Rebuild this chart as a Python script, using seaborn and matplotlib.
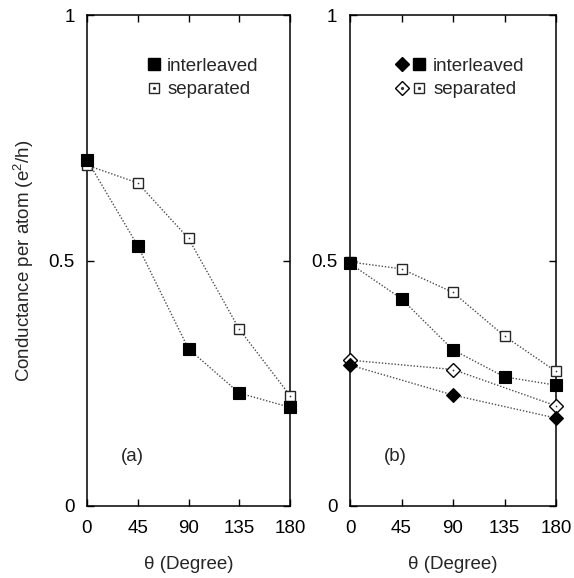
import numpy as np
import pandas as pd
import matplotlib
matplotlib.use("Agg")
import matplotlib.pyplot as plt
import seaborn as sns
from matplotlib.lines import Line2D
from matplotlib.legend_handler import HandlerTuple

# ---------------- data ----------------
theta = [0, 45, 90, 135, 180]
theta_d = [0, 90, 180]
a_interleaved = [0.705, 0.530, 0.320, 0.230, 0.201]
a_separated = [0.694, 0.658, 0.545, 0.360, 0.225]
b_interleaved_sq = [0.494, 0.422, 0.318, 0.263, 0.246]
b_separated_sq = [0.497, 0.483, 0.435, 0.346, 0.274]
b_interleaved_dm = [0.287, 0.226, 0.179]
b_separated_dm = [0.297, 0.278, 0.204]
xticks = [0, 45, 90, 135, 180]
yticks = [0, 0.5, 1]
yticklabels = ["0", "0.5", "1"]
panel_labels = ["(a)", "(b)"]
legend_labels = ["interleaved", "separated"]

sns.set_theme(style="ticks")
plt.rcParams["font.family"] = ["Liberation Sans", "DejaVu Sans"]
plt.rcParams["mathtext.fontset"] = "custom"
plt.rcParams["mathtext.rm"] = "Liberation Sans"
plt.rcParams["mathtext.it"] = "Liberation Sans:italic"

FS = 13.5
LINE = dict(linestyle=(0, (1, 1.3)), color="0.3", linewidth=1.0, clip_on=False)

fig = plt.figure(figsize=(5.74, 5.78), dpi=100)
axA = fig.add_axes([87 / 574, 1 - 506 / 578, 203 / 574, 491 / 578])
axB = fig.add_axes([350 / 574, 1 - 506 / 578, 206 / 574, 491 / 578])


def series(ax, x, y, kind, zorder=3):
    df = pd.DataFrame({"x": x, "y": y})
    if kind == "fsq":
        sns.lineplot(data=df, x="x", y="y", ax=ax, marker="s", markersize=8,
                     markerfacecolor="black", markeredgecolor="black",
                     markeredgewidth=0.8, zorder=zorder, **LINE)
    elif kind == "osq":
        sns.lineplot(data=df, x="x", y="y", ax=ax, marker="s", markersize=7.5,
                     markerfacecolor="white", markeredgecolor="0.15",
                     markeredgewidth=1.0, zorder=zorder, **LINE)
        sns.scatterplot(data=df, x="x", y="y", ax=ax, marker="o", s=1.5,
                        color="0.2", linewidth=0, zorder=zorder + 0.5, clip_on=False)
    elif kind == "fdm":
        sns.lineplot(data=df, x="x", y="y", ax=ax, marker="D", markersize=7,
                     markerfacecolor="black", markeredgecolor="black",
                     markeredgewidth=0.8, zorder=zorder, **LINE)
    elif kind == "odm":
        sns.lineplot(data=df, x="x", y="y", ax=ax, marker="D", markersize=7,
                     markerfacecolor="white", markeredgecolor="black",
                     markeredgewidth=1.0, zorder=zorder, **LINE)
        sns.scatterplot(data=df, x="x", y="y", ax=ax, marker="o", s=1.5,
                        color="0.2", linewidth=0, zorder=zorder + 0.5, clip_on=False)


series(axA, theta, a_separated, "osq", zorder=3)
series(axA, theta, a_interleaved, "fsq", zorder=4)

series(axB, theta, b_separated_sq, "osq", zorder=3)
series(axB, theta, b_interleaved_sq, "fsq", zorder=4)
series(axB, theta_d, b_separated_dm, "odm", zorder=3)
series(axB, theta_d, b_interleaved_dm, "fdm", zorder=4)

for ax, lab in zip([axA, axB], panel_labels):
    ax.set_xlim(0, 180)
    ax.set_ylim(0, 1)
    ax.set_xticks(xticks)
    ax.set_xticklabels([str(t) for t in xticks])
    ax.set_yticks(yticks)
    ax.set_yticklabels(yticklabels)
    ax.tick_params(direction="in", length=5, width=1.0, top=True, right=True,
                   labelsize=FS, colors="black")
    ax.tick_params(axis="x", pad=10)
    ax.tick_params(axis="y", pad=9)
    for s in ax.spines.values():
        s.set_visible(True)
        s.set_linewidth(1.1)
        s.set_color("black")
    ax.set_xlabel("\u03b8 (Degree)", fontsize=FS, labelpad=14)
    ax.set_ylabel("")
    ax.text(40, 0.1, lab, fontsize=FS, ha="center", va="center")

axA.set_ylabel("Conductance per atom (e$^2$/h)", fontsize=FS, labelpad=9)

# legends
fsq = Line2D([], [], marker="s", markersize=8, color="black", linestyle="none")
osq = Line2D([], [], marker="s", markersize=7.5, markerfacecolor="white",
             markeredgecolor="0.15", markeredgewidth=1.0, linestyle="none")
dot = Line2D([], [], marker="o", markersize=1.3, color="0.2", linestyle="none")
fdm = Line2D([], [], marker="D", markersize=7, color="black", linestyle="none")
odm = Line2D([], [], marker="D", markersize=7, markerfacecolor="white",
             markeredgecolor="black", markeredgewidth=1.0, linestyle="none")

axA.legend([fsq, (osq, dot)], legend_labels, loc="upper left",
           bbox_to_anchor=(0.21, 0.947), frameon=False, fontsize=FS,
           handlelength=0.8, handletextpad=0.3, labelspacing=0.32,
           handler_map={tuple: HandlerTuple(ndivide=1)})

row1 = (fdm, fsq)
row2 = ((odm, dot), (osq, dot))
axB.legend([row1, row2], legend_labels, loc="upper left",
           bbox_to_anchor=(0.13, 0.947), frameon=False, fontsize=FS,
           handlelength=1.8, handletextpad=0.3, labelspacing=0.32,
           handler_map={row1: HandlerTuple(ndivide=None, pad=0.1),
                        row2: HandlerTuple(ndivide=None, pad=0.1),
                        row2[0]: HandlerTuple(ndivide=1),
                        row2[1]: HandlerTuple(ndivide=1)})

fig.savefig("out.png", dpi=100)
